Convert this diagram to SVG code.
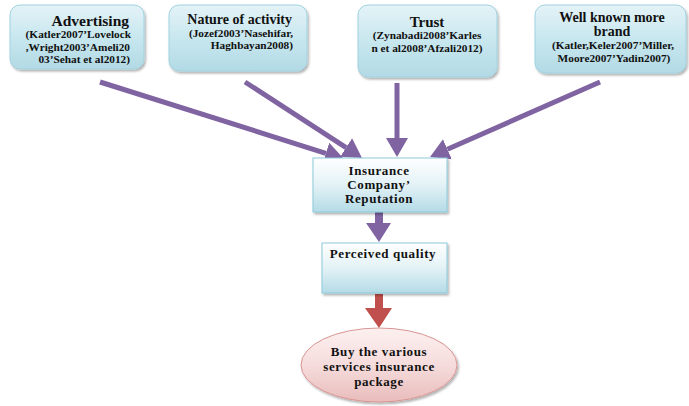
<svg xmlns="http://www.w3.org/2000/svg" width="689" height="406" viewBox="0 0 689 406">
<style>
.t{font-family:"Liberation Serif","Times New Roman",serif;font-weight:bold;fill:#111}
.h{font-size:14px}
.c{font-size:11.3px}
.m{font-size:13px;letter-spacing:0.6px}
.box{fill:url(#gb);stroke:#9fd2df;stroke-width:1;filter:url(#sh)}
.rbox{fill:url(#gr);stroke:#8cc9da;stroke-width:1;filter:url(#sh)}
.arr{stroke:#8064a2;stroke-width:5;fill:none;marker-end:url(#ah)}
</style>
<defs>
<linearGradient id="gb" x1="0" y1="0" x2="0" y2="1"><stop offset="0" stop-color="#e4f3f7"/><stop offset="0.5" stop-color="#c8e7ef"/><stop offset="1" stop-color="#b2dae5"/></linearGradient>
<linearGradient id="gr" x1="0" y1="0" x2="0" y2="1"><stop offset="0" stop-color="#ffffff"/><stop offset="0.5" stop-color="#e3f2f6"/><stop offset="1" stop-color="#b4dbe6"/></linearGradient>
<linearGradient id="ge" x1="0" y1="0" x2="0" y2="1"><stop offset="0" stop-color="#fdf0f0"/><stop offset="0.5" stop-color="#f6dcdc"/><stop offset="1" stop-color="#e8bcbb"/></linearGradient>
<filter id="sh" x="-10%" y="-10%" width="125%" height="130%"><feDropShadow dx="1.5" dy="2" stdDeviation="1.2" flood-color="#000" flood-opacity="0.3"/></filter>
<marker id="ah" viewBox="0 0 20 24" refX="0" refY="12" markerWidth="20" markerHeight="24" markerUnits="userSpaceOnUse" orient="auto"><path d="M0,1 L19,12 L0,23 z" fill="#8064a2"/></marker>
</defs>

<g id="connectors">
<line class="arr" x1="100" y1="82" x2="325.9" y2="153.3"/>
<line class="arr" x1="245" y1="82" x2="346.1" y2="147.6"/>
<line class="arr" x1="397" y1="83" x2="397" y2="138"/>
<line class="arr" x1="600" y1="82" x2="447.4" y2="149.3"/>
<polygon points="375,212 383,212 383,223 391,223 379,242 366,223 375,223" fill="#8064a2"/>
<polygon points="375,294 383,294 383,308 392,308 379,328 365,308 375,308" fill="#c0504d"/>
</g>

<g id="advertising">
<rect class="box" x="10" y="5" width="134" height="64" rx="10"/>
<text class="t" style="font-size:15.5px" x="129" y="26" text-anchor="end">Advertising</text>
<text class="t c" x="131" y="38" text-anchor="end">(Katler2007’Lovelock</text>
<text class="t c" x="130" y="51" text-anchor="end">,Wright2003’Ameli20</text>
<text class="t c" x="130" y="63" text-anchor="end">03’Sehat et al2012)</text>
</g>

<g id="nature">
<rect class="box" x="169" y="5" width="138" height="66" rx="10"/>
<text class="t h" x="292" y="24" text-anchor="end">Nature of activity</text>
<text class="t c" x="293" y="37" text-anchor="end">(Jozef2003’Nasehifar,</text>
<text class="t c" x="293" y="49" text-anchor="end">Haghbayan2008)</text>
</g>

<g id="trust">
<rect class="box" x="358" y="5" width="139" height="72" rx="10"/>
<text class="t" style="font-size:15px" x="427" y="27" text-anchor="middle">Trust</text>
<text class="t c" x="427" y="39" text-anchor="middle">(Zynabadi2008’Karles</text>
<text class="t c" x="427" y="52" text-anchor="middle">n et al2008’Afzali2012)</text>
</g>

<g id="wellknown">
<rect class="box" x="535" y="5" width="151" height="68" rx="10"/>
<text class="t h" x="612" y="22" text-anchor="middle">Well known more</text>
<text class="t h" x="612" y="36" text-anchor="middle">brand</text>
<text class="t c" x="613" y="49" text-anchor="middle">(Katler,Keler2007’Miller,</text>
<text class="t c" x="614" y="62" text-anchor="middle">Moore2007’Yadin2007)</text>
</g>

<g id="reputation">
<rect class="rbox" x="313" y="158" width="134" height="54"/>
<text class="t m" x="379" y="175" text-anchor="middle">Insurance</text>
<text class="t m" x="379" y="189" text-anchor="middle">Company’</text>
<text class="t m" x="379" y="203" text-anchor="middle">Reputation</text>
</g>

<g id="perceived">
<rect class="rbox" x="322" y="243" width="125" height="50"/>
<text class="t m" x="383" y="258" text-anchor="middle">Perceived quality</text>
</g>

<g id="buy">
<ellipse cx="379" cy="365" rx="78" ry="37" fill="url(#ge)" stroke="#d99694" stroke-width="1" filter="url(#sh)"/>
<text class="t m" x="379" y="356" text-anchor="middle">Buy the various</text>
<text class="t m" x="379" y="371" text-anchor="middle">services insurance</text>
<text class="t m" x="379" y="386" text-anchor="middle">package</text>
</g>
</svg>
